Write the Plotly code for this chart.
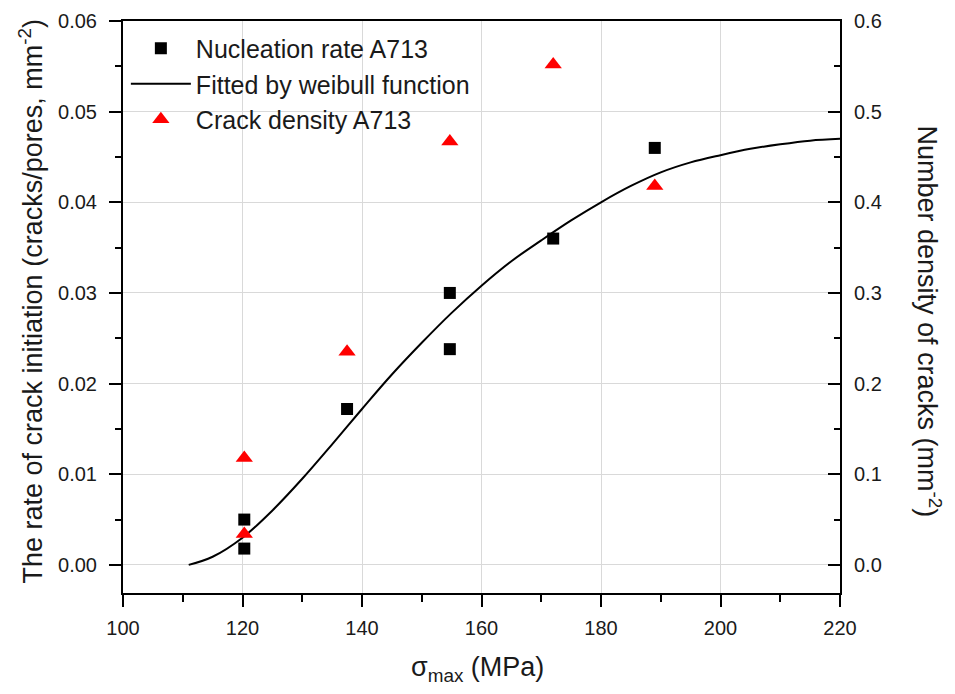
import plotly.graph_objects as go

# Nucleation rate A713 (left axis)
nuc_x = [120.3, 120.3, 137.5, 154.7, 154.7, 172.0, 189.0]
nuc_y = [0.0050, 0.0018, 0.0172, 0.0300, 0.0238, 0.0360, 0.0460]

# Crack density A713 (right axis)
crack_x = [120.3, 120.3, 137.5, 154.7, 172.0, 189.0]
crack_y = [0.118, 0.034, 0.235, 0.467, 0.552, 0.418]

# Weibull fitted curve
fit_x = [111, 115, 120, 125, 130, 135, 140, 145, 150, 155, 160, 165, 170, 175, 180, 185, 190, 195, 200, 205, 210, 215, 220]
fit_y = [0.0000, 0.0009, 0.0030, 0.0060, 0.0095, 0.0133, 0.0172, 0.0210, 0.0245, 0.0278, 0.0308, 0.0335, 0.0358, 0.0380, 0.0400, 0.0418, 0.0433, 0.0444, 0.0452, 0.0459, 0.0464, 0.0468, 0.0470]

x_ticks = [100, 120, 140, 160, 180, 200, 220]
x_minor = [110, 130, 150, 170, 190, 210]
y1_ticks = [0, 0.01, 0.02, 0.03, 0.04, 0.05, 0.06]
y1_minor = [0.005, 0.015, 0.025, 0.035, 0.045, 0.055]
y2_ticks = [0, 0.1, 0.2, 0.3, 0.4, 0.5, 0.6]
y2_minor = [0.05, 0.15, 0.25, 0.35, 0.45, 0.55]

FONT = "Liberation Sans, Arial, sans-serif"
TXT = "#1a1a1a"

fig = go.Figure()
fig.add_trace(go.Scatter(x=nuc_x, y=nuc_y, mode="markers", name="Nucleation rate A713",
                         marker=dict(symbol="square", size=12, color="black")))
fig.add_trace(go.Scatter(x=fit_x, y=fit_y, mode="lines", name="Fitted by weibull function",
                         line=dict(color="black", width=2, shape="spline")))
fig.add_trace(go.Scatter(x=crack_x, y=crack_y, mode="markers", name="Crack density A713",
                         yaxis="y2", marker=dict(symbol="triangle-up", size=15, color="#ff0000")))

axis_common = dict(showline=True, linecolor="black", linewidth=2,
                   ticklen=12, tickwidth=2, tickcolor="black",
                   tickfont=dict(family=FONT, size=20, color=TXT),
                   zeroline=False, automargin=False, ticklabeloverflow="allow")

# page has an 8px body margin, so the figure is 16px smaller than the window
fig.update_layout(
    width=939, height=678,
    margin=dict(l=115, r=107, t=13, b=93),
    plot_bgcolor="white", paper_bgcolor="white",
    showlegend=True,
    legend=dict(x=0.004, y=0.992, xanchor="left", yanchor="top",
                bgcolor="rgba(255,255,255,0)", font=dict(family=FONT, size=25, color=TXT),
                tracegroupgap=0, itemwidth=60),
    xaxis=dict(range=[100, 220], tickvals=x_ticks, ticks="outside", ticklabelstandoff=4,
               minor=dict(tickvals=x_minor, ticks="outside", ticklen=7, tickwidth=2,
                          tickcolor="black", showgrid=False),
               mirror=True, showgrid=True, gridcolor="#d9d9d9", gridwidth=1,
               **axis_common),
    yaxis=dict(range=[-0.0031, 0.06], tickvals=y1_ticks, tickformat=".2f", ticks="outside",
               ticklabelstandoff=8,
               minor=dict(tickvals=y1_minor, ticks="outside", ticklen=6, tickwidth=2,
                          tickcolor="black", showgrid=False),
               showgrid=True, gridcolor="#d9d9d9", gridwidth=1,
               **axis_common),
    yaxis2=dict(range=[-0.031, 0.6], tickvals=y2_ticks, tickformat=".1f", ticks="inside",
                ticklabelstandoff=8,
                overlaying="y", side="right", showgrid=False,
                minor=dict(tickvals=y2_minor, ticks="inside", ticklen=6, tickwidth=2,
                           tickcolor="black"),
                **axis_common),
    annotations=[
        dict(text="σ<sub>max</sub> (MPa)", xref="paper", yref="paper", x=0.495, y=-0.100,
             xanchor="center", yanchor="top", showarrow=False,
             font=dict(family=FONT, size=27, color=TXT)),
        dict(text="The rate of crack initiation (cracks/pores, mm<sup>-2</sup>)", textangle=-90,
             xref="paper", yref="paper", x=-0.128, y=0.51, xanchor="center", yanchor="middle",
             showarrow=False, font=dict(family=FONT, size=27, color=TXT)),
        dict(text="Number density of cracks (mm<sup>-2</sup>)", textangle=90,
             xref="paper", yref="paper", x=1.124, y=0.475, xanchor="center", yanchor="middle",
             showarrow=False, font=dict(family=FONT, size=27, color=TXT)),
    ],
)

fig.write_html("out.html")
